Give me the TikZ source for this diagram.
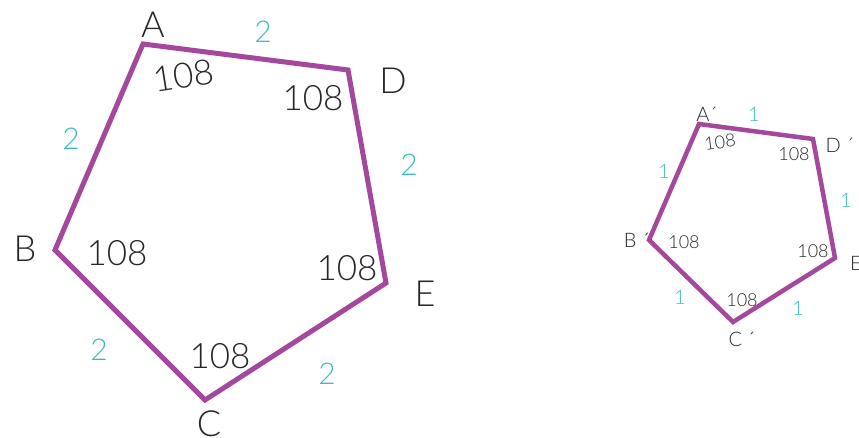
\documentclass[tikz,border=0pt]{standalone}
\usepackage{fontspec}
\setmainfont{Lato Light}
\definecolor{poly}{HTML}{A4489E}
\definecolor{side}{HTML}{3BBDBD}
\begin{document}
\begin{tikzpicture}[x=1pt,y=-1pt,
  edge/.style={draw=poly,line width=5pt,line join=miter},
  edgesmall/.style={draw=poly,line width=4.5pt,line join=miter},
  vlab/.style={font=\fontsize{36}{36}\selectfont,text=black!85,inner sep=0pt},
  ang/.style={font=\fontsize{35}{35}\selectfont,text=black!85,inner sep=0pt},
  len/.style={font=\fontsize{30}{30}\selectfont,text=side,inner sep=0pt},
  vlabs/.style={font=\fontsize{20}{20}\selectfont,text=black!85,inner sep=0pt},
  angs/.style={font=\fontsize{18}{18}\selectfont,text=black!85,inner sep=0pt},
  lens/.style={font=\fontsize{20}{20}\selectfont,text=side,inner sep=0pt}]
\useasboundingbox (0,0) rectangle (859,438);
\clip (0,0) rectangle (859,438);
% large pentagon
\coordinate (A) at (143,44);
\coordinate (D) at (348,70);
\coordinate (E) at (386,283);
\coordinate (C) at (205,400);
\coordinate (B) at (55,250);
\draw[edge] (A) -- (D) -- (E) -- (C) -- (B) -- cycle;
\node[vlab] (lA) at (153,25) {A};
\node[vlab] (lD) at (393,81) {D};
\node[vlab] (lB) at (25,249) {B};
\node[vlab] (lE) at (425,294) {E};
\node[vlab] (lC) at (209,424) {C};
\node[ang,rotate=9] (aA) at (184,76) {108};
\node[ang] (aD) at (313,98) {108};
\node[ang] (aB) at (117,253) {108};
\node[ang] (aE) at (347,268) {108};
\node[ang] (aC) at (220,356) {108};
\node[len] (sAD) at (263,32) {2};
\node[len] (sAB) at (71,139) {2};
\node[len] (sDE) at (409,165) {2};
\node[len] (sBC) at (99,350) {2};
\node[len] (sCE) at (327,374) {2};
% small pentagon
\coordinate (A2) at (699,124);
\coordinate (D2) at (813,139);
\coordinate (E2) at (835,258);
\coordinate (C2) at (733,322);
\coordinate (B2) at (649,240);
\draw[edgesmall] (A2) -- (D2) -- (E2) -- (C2) -- (B2) -- cycle;
\node[vlabs] (lA2) at (707,114) {A´};
\node[vlabs] (lD2) at (840,145) {D ´};
\node[vlabs] (lB2) at (637,240) {B ´};
\node[vlabs,anchor=west] (lE2) at (850,263) {E´};
\node[vlabs] (lC2) at (742,339) {C ´};
\node[angs,rotate=8] (aA2) at (720,142) {108};
\node[angs] (aD2) at (794,154) {108};
\node[angs] (aB2) at (684,242) {108};
\node[angs] (aE2) at (813,251) {108};
\node[angs] (aC2) at (742,300) {108};
\node[lens] (sAD2) at (754,114) {1};
\node[lens] (sAB2) at (664,171) {1};
\node[lens] (sDE2) at (846,200) {1};
\node[lens] (sBC2) at (680,297) {1};
\node[lens] (sCE2) at (798,308) {1};
\end{tikzpicture}
\end{document}
